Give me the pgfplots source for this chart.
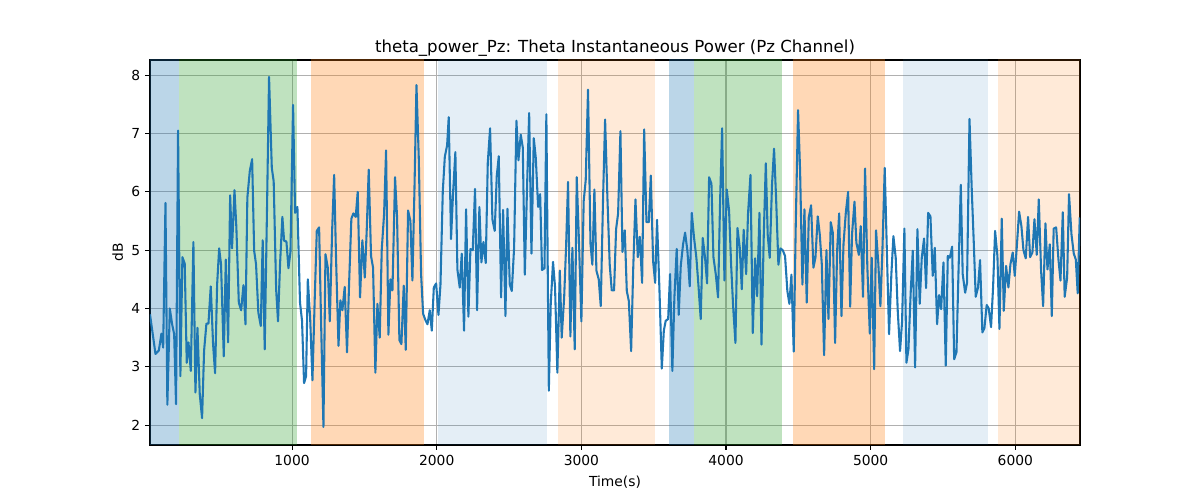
\documentclass[border=0pt]{standalone}
\usepackage{pgfplots}
\pgfplotsset{compat=1.18}
\usepackage{pgfplotstable}
\usepackage{fontspec}
\setmainfont{DejaVu Sans}
\definecolor{tabblue}{RGB}{31,119,180}
\definecolor{taborange}{RGB}{255,127,14}
\definecolor{tabgreen}{RGB}{44,160,44}
\definecolor{gridgray}{RGB}{176,176,176}
\pgfplotstableread{
x y
18 3.90
56 3.22
79 3.28
97 3.57
109 3.33
125 5.81
138 2.35
155 4.00
171 3.73
185 3.56
198 2.36
212 7.05
228 2.84
242 4.88
258 4.77
272 3.07
284 3.42
300 2.93
318 5.14
332 2.56
346 3.67
362 2.53
378 2.12
392 3.28
408 3.74
422 3.74
438 4.38
454 3.39
468 2.89
482 4.41
496 5.03
509 4.76
528 3.18
542 4.84
558 3.42
572 5.94
585 5.03
602 6.03
615 5.39
632 4.10
648 3.97
664 4.40
678 3.73
691 5.90
708 6.36
724 6.56
738 4.99
751 4.76
767 3.93
784 3.70
797 5.17
811 3.30
827 5.73
841 7.97
860 6.41
873 6.18
890 4.33
903 3.78
917 4.76
933 5.57
945 5.16
961 5.15
975 4.69
989 4.97
1007 7.49
1021 5.64
1037 5.74
1055 4.10
1069 3.79
1083 2.72
1097 2.84
1109 4.50
1125 3.84
1141 2.77
1157 4.19
1171 5.33
1187 5.39
1201 3.73
1217 1.97
1231 4.93
1247 4.70
1261 3.78
1277 5.33
1291 6.29
1304 4.87
1321 3.36
1334 4.14
1348 3.97
1364 4.37
1380 3.25
1394 4.41
1410 5.54
1424 5.63
1440 5.57
1454 6.00
1470 4.19
1486 5.17
1503 4.53
1516 5.33
1530 6.38
1546 4.90
1560 4.70
1576 2.90
1590 4.08
1606 3.50
1620 5.01
1636 5.61
1650 6.71
1666 3.55
1680 4.50
1694 4.31
1712 6.25
1726 5.56
1742 3.46
1756 3.39
1772 4.39
1786 3.29
1802 5.68
1818 5.50
1832 4.48
1846 6.02
1860 7.83
1876 6.58
1892 4.59
1906 3.91
1922 3.80
1936 3.73
1952 3.97
1966 3.62
1980 4.36
1996 4.43
2012 3.89
2026 4.41
2042 6.01
2056 6.60
2072 6.80
2083 7.28
2099 5.19
2113 5.98
2129 6.68
2143 4.67
2159 4.36
2173 4.94
2189 3.62
2203 5.70
2219 3.86
2233 5.02
2249 5.00
2265 6.05
2279 3.97
2295 5.74
2309 4.79
2323 5.14
2339 4.78
2353 6.50
2369 7.09
2385 5.53
2401 5.33
2415 6.27
2429 6.61
2445 4.19
2459 5.69
2475 3.87
2489 5.71
2505 4.41
2519 4.30
2535 5.04
2551 7.22
2565 6.54
2581 6.98
2595 6.76
2609 4.58
2625 6.13
2639 7.35
2655 4.94
2671 6.92
2685 6.58
2701 5.74
2715 5.96
2728 4.66
2745 4.69
2758 7.33
2775 2.59
2788 4.06
2804 4.80
2818 4.37
2834 2.90
2851 4.65
2864 3.50
2881 4.19
2894 5.04
2908 6.17
2924 3.52
2938 5.04
2954 3.30
2968 6.25
2984 5.10
3000 3.78
3016 5.84
3030 6.20
3046 7.75
3063 5.11
3076 4.75
3090 6.04
3104 4.65
3120 4.50
3134 4.04
3150 5.90
3164 7.24
3180 5.90
3196 4.75
3210 4.31
3226 4.31
3240 5.36
3254 5.63
3270 7.04
3284 4.97
3300 5.34
3314 4.30
3328 4.13
3344 3.27
3358 4.65
3374 5.87
3390 4.88
3404 5.23
3420 4.44
3434 7.07
3450 5.48
3466 5.48
3480 6.28
3496 4.81
3510 4.44
3523 5.52
3540 4.30
3556 2.97
3570 3.62
3583 3.79
3600 3.82
3613 4.59
3629 2.93
3643 4.19
3659 5.02
3673 3.89
3687 4.73
3703 5.10
3717 5.30
3733 4.99
3749 4.38
3763 5.64
3779 5.21
3795 4.87
3809 4.41
3825 3.82
3839 5.21
3855 4.87
3869 4.43
3883 6.25
3899 6.14
3913 4.88
3929 4.59
3945 4.19
3959 5.84
3973 7.09
3989 4.48
4005 6.04
4021 5.68
4035 4.76
4049 4.04
4065 3.41
4079 5.38
4095 5.04
4109 4.33
4122 5.35
4139 4.59
4152 5.62
4169 6.29
4185 3.58
4201 4.86
4215 4.21
4231 5.64
4245 3.38
4261 5.27
4275 6.49
4288 5.27
4302 4.87
4318 6.13
4332 6.74
4346 5.90
4362 4.75
4376 5.03
4392 5.00
4408 4.90
4424 4.30
4438 4.08
4452 4.58
4468 3.26
4482 5.44
4498 7.40
4512 6.36
4528 4.41
4542 5.70
4558 4.10
4572 5.56
4588 5.77
4604 4.70
4618 4.87
4634 5.58
4648 5.27
4662 4.76
4678 3.20
4694 5.00
4708 3.82
4724 5.48
4738 5.30
4754 3.41
4768 4.99
4782 5.63
4798 3.87
4812 5.10
4828 5.64
4844 6.00
4858 4.03
4871 5.27
4888 5.83
4901 5.13
4918 4.92
4931 5.41
4947 4.20
4961 6.40
4977 4.70
4994 3.57
5007 4.87
5024 2.96
5037 5.34
5053 4.76
5067 4.04
5081 4.99
5097 6.41
5113 4.87
5127 3.56
5143 4.59
5157 5.24
5173 4.87
5187 3.96
5203 3.27
5217 3.78
5233 5.37
5247 3.07
5261 3.30
5277 4.30
5291 4.99
5307 2.99
5323 5.36
5339 4.08
5353 4.87
5369 5.20
5383 4.35
5397 5.64
5413 5.58
5429 4.56
5443 5.04
5459 3.73
5473 4.23
5487 3.99
5503 4.79
5519 3.02
5533 4.90
5547 4.87
5563 5.06
5577 3.13
5593 3.25
5606 4.53
5623 6.12
5636 4.59
5653 4.27
5666 4.44
5683 7.25
5699 6.01
5712 5.17
5726 4.20
5742 4.36
5756 4.83
5772 3.59
5786 3.66
5802 4.06
5816 4.00
5832 3.68
5846 4.36
5860 5.33
5876 4.90
5890 3.65
5906 5.54
5920 3.96
5936 4.73
5952 4.36
5966 4.76
5982 4.96
5996 4.56
6012 5.13
6026 5.66
6042 5.41
6056 5.00
6072 4.86
6088 5.57
6102 4.88
6118 4.96
6132 5.53
6148 4.92
6162 5.87
6178 4.65
6192 4.04
6208 5.46
6222 4.67
6238 5.10
6252 3.87
6265 5.37
6282 5.39
6298 4.84
6312 4.48
6328 5.65
6341 4.20
6358 4.53
6371 5.96
6388 5.27
6404 4.94
6418 4.84
6431 4.26
6445 5.56
}\datatable
\begin{document}
\begin{tikzpicture}
\useasboundingbox (-1.5in,-0.55in) rectangle (10.5in,4.45in);
\begin{axis}[
  at={(0,0)}, anchor=south west,
  scale only axis,
  width=9.3in, height=3.85in,
  xmin=18, xmax=6447, ymin=1.66, ymax=8.26,
  xtick={1000,2000,3000,4000,5000,6000},
  ytick={2,3,4,5,6,7,8},
  xtick pos=left, ytick pos=left,
  tick align=outside,
  major tick length=3.5pt,
  every tick/.style={black, line width=0.8pt},
  axis line style={black, line width=0.8pt},
  grid=major,
  major grid style={gridgray, line width=0.8pt},
  /pgf/number format/assume math mode=true,
  /pgf/number format/set thousands separator={},
  tick label style={font=\fontsize{10}{12}\selectfont},
  label style={font=\fontsize{10}{12}\selectfont},
  title style={font=\fontsize{12}{14}\selectfont, yshift=-6.8pt},
  title={theta\_power\_Pz: Theta Instantaneous Power (Pz Channel)},
  xlabel={Time(s)},
  ylabel={dB},
  xlabel style={yshift=-1pt},
  ylabel style={yshift=-0.8pt},
]
\addplot[fill=tabblue, fill opacity=0.3, draw=none, forget plot] coordinates {(0,1) (0,9) (217,9) (217,1)} -- cycle;
\addplot[fill=tabgreen, fill opacity=0.3, draw=none, forget plot] coordinates {(217,1) (217,9) (1037,9) (1037,1)} -- cycle;
\addplot[fill=taborange, fill opacity=0.3, draw=none, forget plot] coordinates {(1132,1) (1132,9) (1910,9) (1910,1)} -- cycle;
\addplot[fill=tabblue, fill opacity=0.12, draw=none, forget plot] coordinates {(2007,1) (2007,9) (2763,9) (2763,1)} -- cycle;
\addplot[fill=taborange, fill opacity=0.16, draw=none, forget plot] coordinates {(2839,1) (2839,9) (3507,9) (3507,1)} -- cycle;
\addplot[fill=tabblue, fill opacity=0.3, draw=none, forget plot] coordinates {(3609,1) (3609,9) (3779,9) (3779,1)} -- cycle;
\addplot[fill=tabgreen, fill opacity=0.3, draw=none, forget plot] coordinates {(3779,1) (3779,9) (4385,9) (4385,1)} -- cycle;
\addplot[fill=taborange, fill opacity=0.3, draw=none, forget plot] coordinates {(4466,1) (4466,9) (5097,9) (5097,1)} -- cycle;
\addplot[fill=tabblue, fill opacity=0.12, draw=none, forget plot] coordinates {(5224,1) (5224,9) (5811,9) (5811,1)} -- cycle;
\addplot[fill=taborange, fill opacity=0.16, draw=none, forget plot] coordinates {(5883,1) (5883,9) (6500,9) (6500,1)} -- cycle;
\addplot[tabblue, line width=1.5pt, line join=round, mark=none] table[x=x, y=y] {\datatable};
\end{axis}
\end{tikzpicture}
\end{document}
